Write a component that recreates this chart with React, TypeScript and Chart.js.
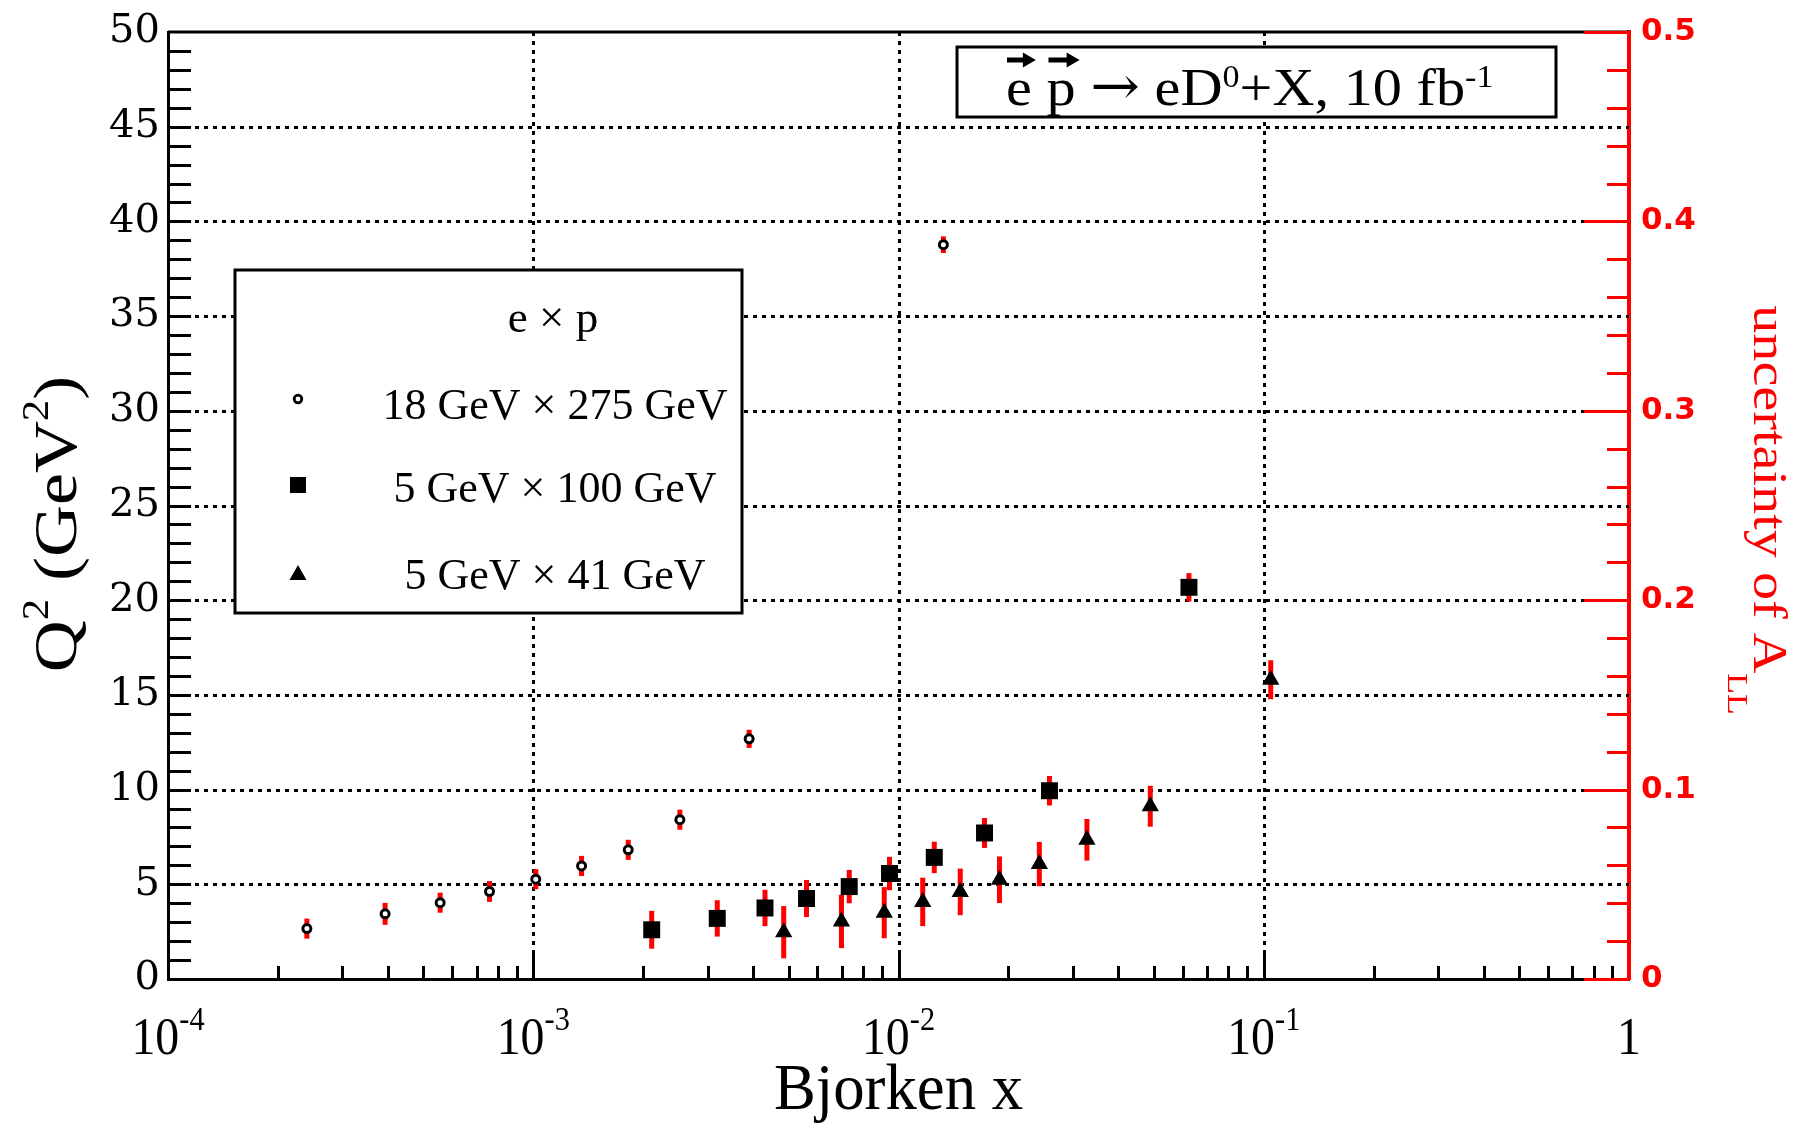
import React, { useEffect, useRef } from 'react';
import { Chart, registerables } from 'chart.js';

Chart.register(...registerables);

const W = 1796;
const H = 1123;

// ---- axes / tick labels ----
const xMin = 1e-4;
const xMax = 1;
const xLabelValues = [1e-4, 1e-3, 1e-2, 1e-1, 1];
const xLabelBases = ['10', '10', '10', '10', '1'];
const xLabelExponents = ['-4', '-3', '-2', '-1', ''];
const xGridValues = [1e-3, 1e-2, 1e-1];
const q2Min = 0;
const q2Max = 50;
const q2Step = 5;
const allMin = 0;
const allMax = 0.5;
const allStep = 0.1;

// ---- series: 18 GeV x 275 GeV (open circles) ----
const x18x275 = [2.40e-4, 3.93e-4, 5.56e-4, 7.59e-4, 1.016e-3, 1.356e-3, 1.82e-3, 2.52e-3, 3.90e-3, 1.327e-2];
const q2_18x275 = [2.66, 3.44, 4.03, 4.62, 5.27, 5.97, 6.82, 8.41, 12.68, 38.77];
const dALL_18x275 = [0.0053, 0.0058, 0.0053, 0.0055, 0.0053, 0.0053, 0.0053, 0.0053, 0.0048, 0.0044];

// ---- series: 5 GeV x 100 GeV (squares) ----
const x5x100 = [2.11e-3, 3.19e-3, 4.31e-3, 5.6e-3, 7.33e-3, 9.45e-3, 1.253e-2, 1.72e-2, 2.59e-2, 6.24e-2];
const q2_5x100 = [2.6, 3.2, 3.75, 4.25, 4.88, 5.57, 6.42, 7.71, 9.94, 20.68];
const dALL_5x100 = [0.0100, 0.0096, 0.0096, 0.0098, 0.0088, 0.0088, 0.0083, 0.0079, 0.0078, 0.0075];

// ---- series: 5 GeV x 41 GeV (triangles) ----
const x5x41 = [4.85e-3, 6.98e-3, 9.14e-3, 1.165e-2, 1.476e-2, 1.89e-2, 2.43e-2, 3.28e-2, 4.89e-2, 1.045e-1];
const q2_5x41 = [2.47, 3.04, 3.5, 4.07, 4.6, 5.24, 6.07, 7.35, 9.12, 15.8];
const dALL_5x41 = [0.0138, 0.0141, 0.0135, 0.0128, 0.0123, 0.0123, 0.0117, 0.0110, 0.0108, 0.0103];

const seriesLabels = ['18 GeV \u00d7 275 GeV', '5 GeV \u00d7 100 GeV', '5 GeV \u00d7 41 GeV'];
const legendHeader = 'e \u00d7 p';
const xTitle = 'Bjorken x';
const yTitleParts = ['Q', '2', ' (GeV', '2', ')'];
const y2TitleParts = ['uncertainty of A', 'LL'];

const SERIF = "'Liberation Serif', 'DejaVu Serif', serif";
const DJSERIF = "'DejaVu Serif', serif";

type Part = { t: string; size: number; dy?: number; family?: string };

function drawRich(
  ctx: CanvasRenderingContext2D,
  parts: Part[],
  x: number,
  y: number,
  opts: { sx?: number; align?: 'left' | 'center' | 'right'; color?: string; rot?: number; family?: string }
) {
  const sx = opts.sx ?? 1;
  const family = opts.family ?? SERIF;
  ctx.save();
  ctx.fillStyle = opts.color ?? '#000';
  ctx.textBaseline = 'alphabetic';
  ctx.textAlign = 'left';
  const widths = parts.map((p) => {
    ctx.font = `${p.size}px ${p.family ?? family}`;
    return ctx.measureText(p.t).width;
  });
  const total = widths.reduce((a, b) => a + b, 0);
  ctx.translate(x, y);
  if (opts.rot) ctx.rotate(opts.rot);
  ctx.scale(sx, 1);
  let cx = opts.align === 'center' ? -total / 2 : opts.align === 'right' ? -total : 0;
  const starts: number[] = [];
  parts.forEach((p, i) => {
    ctx.font = `${p.size}px ${p.family ?? family}`;
    starts.push(cx * sx);
    ctx.fillText(p.t, cx, -(p.dy ?? 0));
    cx += widths[i];
  });
  ctx.restore();
  return { starts, widths: widths.map((w) => w * sx) };
}

function drawMarker(ctx: CanvasRenderingContext2D, kind: number, x: number, y: number) {
  ctx.save();
  ctx.fillStyle = '#000';
  ctx.strokeStyle = '#000';
  if (kind === 0) {
    ctx.beginPath();
    ctx.arc(x, y, 3.8, 0, Math.PI * 2);
    ctx.fillStyle = '#fff';
    ctx.fill();
    ctx.lineWidth = 2.8;
    ctx.stroke();
  } else if (kind === 1) {
    ctx.fillRect(x - 8, y - 8, 16, 16);
  } else {
    ctx.beginPath();
    ctx.moveTo(x, y - 8);
    ctx.lineTo(x + 8.5, y + 7);
    ctx.lineTo(x - 8.5, y + 7);
    ctx.closePath();
    ctx.fill();
  }
  ctx.restore();
}

function arrowAbove(ctx: CanvasRenderingContext2D, x0: number, x1: number, y: number) {
  ctx.save();
  ctx.strokeStyle = '#000';
  ctx.fillStyle = '#000';
  ctx.lineWidth = 5;
  ctx.beginPath();
  ctx.moveTo(x0, y);
  ctx.lineTo(x1 - 9, y);
  ctx.stroke();
  ctx.beginPath();
  ctx.moveTo(x1, y);
  ctx.lineTo(x1 - 13, y - 7.5);
  ctx.lineTo(x1 - 13, y + 7.5);
  ctx.closePath();
  ctx.fill();
  ctx.restore();
}

const errorSeries = [
  { xs: x18x275, ys: q2_18x275, es: dALL_18x275 },
  { xs: x5x100, ys: q2_5x100, es: dALL_5x100 },
  { xs: x5x41, ys: q2_5x41, es: dALL_5x41 },
];

const decorPlugin = {
  id: 'rootDecor',
  beforeDatasetsDraw(chart: any) {
    const { ctx, chartArea: ca, scales } = chart;
    const xs = scales.x;
    const ys = scales.y;
    const y2 = scales.y2;
    ctx.save();
    // dotted grid
    ctx.strokeStyle = '#000';
    ctx.lineWidth = 3;
    ctx.setLineDash([4, 5]);
    for (let v = q2Min + q2Step; v < q2Max; v += q2Step) {
      const py = Math.round(ys.getPixelForValue(v)) + 0.5;
      ctx.beginPath();
      ctx.moveTo(ca.left, py);
      ctx.lineTo(ca.right, py);
      ctx.stroke();
    }
    xGridValues.forEach((v) => {
      const px = Math.round(xs.getPixelForValue(v)) + 0.5;
      ctx.beginPath();
      ctx.moveTo(px, ca.top);
      ctx.lineTo(px, ca.bottom);
      ctx.stroke();
    });
    ctx.setLineDash([]);
    // top frame
    ctx.lineWidth = 3;
    ctx.beginPath();
    ctx.moveTo(ca.left, ca.top);
    ctx.lineTo(ca.right, ca.top);
    ctx.stroke();
    // red uncertainty bars
    ctx.strokeStyle = '#ff0000';
    ctx.lineWidth = 5;
    errorSeries.forEach((s) => {
      s.xs.forEach((xv, i) => {
        const px = xs.getPixelForValue(xv);
        const py = ys.getPixelForValue(s.ys[i]);
        const half = y2.getPixelForValue(0) - y2.getPixelForValue(s.es[i]);
        ctx.beginPath();
        ctx.moveTo(px, py - half);
        ctx.lineTo(px, py + half);
        ctx.stroke();
      });
    });
    ctx.restore();
  },
  afterDatasetsDraw(chart: any) {
    const { ctx, chartArea: ca, scales } = chart;
    const xs = scales.x;
    const ys = scales.y;
    const y2 = scales.y2;
    ctx.save();
    // left ticks
    ctx.strokeStyle = '#000';
    ctx.lineWidth = 3;
    for (let v = q2Min + 1; v < q2Max; v += 1) {
      const py = Math.round(ys.getPixelForValue(v)) + 0.5;
      ctx.beginPath();
      ctx.moveTo(ca.left, py);
      ctx.lineTo(ca.left + 23, py);
      ctx.stroke();
    }
    // bottom ticks
    for (let n = -4; n <= -1; n++) {
      for (let k = 1; k <= 9; k++) {
        const v = k * Math.pow(10, n);
        const px = Math.round(xs.getPixelForValue(v)) + 0.5;
        const len = k === 1 ? 28 : 13;
        ctx.beginPath();
        ctx.moveTo(px, ca.bottom);
        ctx.lineTo(px, ca.bottom - len);
        ctx.stroke();
      }
    }
    // right ticks (red)
    ctx.strokeStyle = '#ff0000';
    for (let i = 0; i <= Math.round((allMax - allMin) / 0.02); i++) {
      const v = allMin + i * 0.02;
      const py = Math.round(y2.getPixelForValue(v)) + 0.5;
      const len = i % 5 === 0 ? 45 : 22;
      ctx.beginPath();
      ctx.moveTo(ca.right - len, py);
      ctx.lineTo(ca.right, py);
      ctx.stroke();
    }
    ctx.restore();

    // x tick labels
    xLabelValues.forEach((v, i) => {
      const px = xs.getPixelForValue(v);
      const parts: Part[] = [{ t: xLabelBases[i], size: 52 }];
      if (xLabelExponents[i]) parts.push({ t: xLabelExponents[i], size: 33, dy: 24 });
      drawRich(ctx, parts, px, 1054, { sx: 0.92, align: 'center' });
    });
    // axis titles
    drawRich(ctx, [{ t: xTitle, size: 66 }], (ca.left + ca.right) / 2, 1109, { sx: 0.95, align: 'center' });
    drawRich(
      ctx,
      [
        { t: yTitleParts[0], size: 62 },
        { t: yTitleParts[1], size: 37, dy: 28 },
        { t: yTitleParts[2], size: 62 },
        { t: yTitleParts[3], size: 37, dy: 28 },
        { t: yTitleParts[4], size: 62 },
      ],
      76,
      524,
      { sx: 1.16, align: 'center', rot: -Math.PI / 2 }
    );
    drawRich(
      ctx,
      [
        { t: y2TitleParts[0], size: 48 },
        { t: y2TitleParts[1], size: 29, dy: -26 },
      ],
      1754,
      510,
      { sx: 1.17, align: 'center', rot: Math.PI / 2, color: '#ff0000' }
    );

    // process box
    ctx.save();
    ctx.fillStyle = '#fff';
    ctx.fillRect(957, 47, 599, 70);
    ctx.strokeStyle = '#000';
    ctx.lineWidth = 3;
    ctx.strokeRect(957, 47, 599, 70);
    ctx.restore();
    const boxParts: Part[] = [
      { t: 'e', size: 53 },
      { t: ' ', size: 53 },
      { t: 'p', size: 53 },
      { t: ' ', size: 53 },
      { t: '\u2192', size: 54, dy: 1, family: DJSERIF },
      { t: ' ', size: 53 },
      { t: 'eD', size: 53 },
      { t: '0', size: 31, dy: 18 },
      { t: '+X, 10 fb', size: 53 },
      { t: '-1', size: 31, dy: 18 },
    ];
    const bx = 1006;
    const res = drawRich(ctx, boxParts, bx, 105, { sx: 1.1, align: 'left' });
    arrowAbove(ctx, bx + res.starts[0] + 1, bx + res.starts[0] + res.widths[0] + 4, 60);
    arrowAbove(ctx, bx + res.starts[2] + 2, bx + res.starts[2] + res.widths[2] + 4, 60);

    // legend
    ctx.save();
    ctx.fillStyle = '#fff';
    ctx.fillRect(235, 270, 507, 343);
    ctx.strokeStyle = '#000';
    ctx.lineWidth = 3;
    ctx.strokeRect(235, 270, 507, 343);
    ctx.restore();
    drawRich(ctx, [{ t: legendHeader, size: 45 }], 553, 332, { align: 'center' });
    const legMarkY = [399, 485, 573];
    const legTextY = [419, 502, 589];
    seriesLabels.forEach((lab, i) => {
      drawMarker(ctx, i, 298, legMarkY[i]);
      drawRich(ctx, [{ t: lab, size: 44 }], 555, legTextY[i], { align: 'center' });
    });
  },
};

export default function App() {
  const ref = useRef<HTMLCanvasElement>(null);
  useEffect(() => {
    const canvas = ref.current;
    if (!canvas) return;
    const chart = new Chart(canvas, {
      type: 'scatter',
      data: {
        datasets: [
          {
            label: seriesLabels[0],
            data: x18x275.map((x, i) => ({ x, y: q2_18x275[i] })),
            pointStyle: 'circle',
            pointRadius: 4,
            pointBorderWidth: 3,
            pointBorderColor: '#000',
            pointBackgroundColor: '#fff',
            yAxisID: 'y',
          },
          {
            label: seriesLabels[1],
            data: x5x100.map((x, i) => ({ x, y: q2_5x100[i] })),
            pointStyle: 'rect',
            pointRadius: 12,
            pointBorderWidth: 0,
            pointBackgroundColor: '#000',
            pointBorderColor: '#000',
            yAxisID: 'y',
          },
          {
            label: seriesLabels[2],
            data: x5x41.map((x, i) => ({ x, y: q2_5x41[i] })),
            pointStyle: 'triangle',
            pointRadius: 10,
            pointBorderWidth: 0,
            pointBackgroundColor: '#000',
            pointBorderColor: '#000',
            yAxisID: 'y',
          },
        ],
      },
      options: {
        animation: false,
        responsive: false,
        devicePixelRatio: 1,
        events: [],
        layout: { padding: { top: 28, left: 0, right: 0, bottom: 0 } },
        plugins: {
          legend: { display: false },
          tooltip: { enabled: false },
          title: { display: false },
        },
        scales: {
          x: {
            type: 'logarithmic',
            min: xMin,
            max: xMax,
            position: 'bottom',
            grid: { display: false, drawTicks: false },
            border: { display: true, color: '#000', width: 3 },
            ticks: { display: false },
            afterFit: (s: any) => {
              s.height = H - 979;
            },
          },
          y: {
            type: 'linear',
            min: q2Min,
            max: q2Max,
            position: 'left',
            grid: { display: false, drawTicks: false },
            border: { display: true, color: '#000', width: 3 },
            ticks: {
              stepSize: q2Step,
              autoSkip: false,
              padding: 8,
              color: '#000',
              font: { family: "'DejaVu Serif', serif", size: 40 },
            },
            afterFit: (s: any) => {
              s.width = 168;
            },
          },
          y2: {
            type: 'linear',
            min: allMin,
            max: allMax,
            position: 'right',
            grid: { display: false, drawTicks: false },
            border: { display: true, color: '#ff0000', width: 4 },
            ticks: {
              stepSize: allStep,
              autoSkip: false,
              padding: 12,
              color: '#ff0000',
              font: { family: "'DejaVu Sans', sans-serif", size: 31, weight: 'bold' },
            },
            afterFit: (s: any) => {
              s.width = W - 1629;
            },
          },
        },
      } as any,
      plugins: [decorPlugin],
    });
    return () => chart.destroy();
  }, []);
  return (
    <div style={{ position: 'absolute', left: 0, top: 0, width: W, height: H, background: '#fff' }}>
      <canvas ref={ref} width={W} height={H} style={{ width: W, height: H, display: 'block' }} />
    </div>
  );
}
